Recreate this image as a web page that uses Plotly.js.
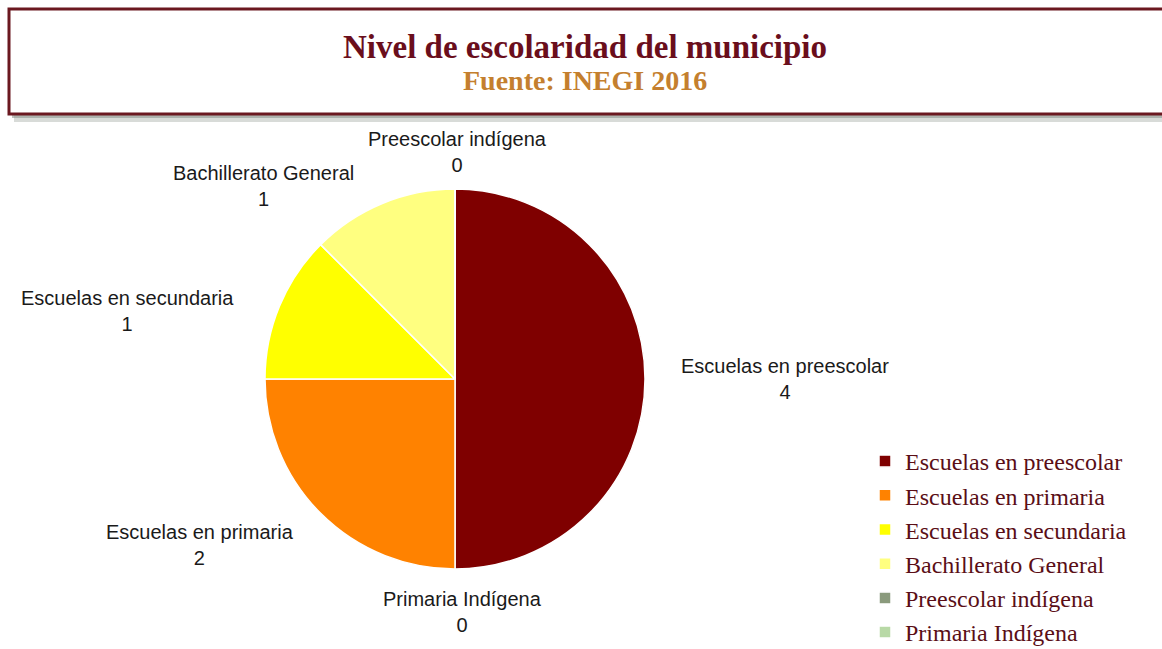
<!DOCTYPE html>
<html>
<head>
<meta charset="utf-8">
<script src="https://cdn.plot.ly/plotly-3.0.1.min.js"></script>
<style>html,body{margin:0;padding:0;background:#fff;}#chart{width:1162px;height:649px;}</style>
</head>
<body>
<div id="chart"></div>
<script>
// ---- data ----
var categories = ["Escuelas en preescolar", "Escuelas en primaria", "Escuelas en secundaria", "Bachillerato General", "Preescolar indígena", "Primaria Indígena"];
var values = [4, 2, 1, 1, 0, 0];
var sliceColors = ["#7F0000", "#FF8200", "#FFFF00", "#FFFF80", "#8A9A7C", "#B8D9A6"];
var titleText = "Nivel de escolaridad del municipio";
var subtitleText = "Fuente: INEGI 2016";

// ---- layout helpers (pixel -> paper) ----
var W = 1162, H = 649;
function px(x) { return x / W; }
function py(y) { return 1 - y / H; }

// label centre positions (pixels), in category order
var labelPos = [[785, 379], [200, 545], [127, 311], [263, 186], [457, 152], [462, 612]];

var trace = {
  type: "pie",
  labels: categories,
  values: values,
  sort: false,
  direction: "clockwise",
  rotation: 0,
  marker: { colors: sliceColors, line: { color: "#ffffff", width: 1.5 } },
  textinfo: "none",
  hoverinfo: "label+value",
  domain: { x: [px(265), px(645)], y: [py(569), py(189)] }
};

var annotations = [
  { text: "<b>" + titleText + "</b>", x: px(585), y: py(47), xref: "paper", yref: "paper", showarrow: false,
    xanchor: "center", yanchor: "middle",
    font: { family: "Liberation Serif, Times New Roman, serif", size: 33, color: "#6A0E1C" } },
  { text: "<b>" + subtitleText + "</b>", x: px(585), y: py(80), xref: "paper", yref: "paper", showarrow: false,
    xanchor: "center", yanchor: "middle",
    font: { family: "Liberation Serif, Times New Roman, serif", size: 28, color: "#C47F2E" } }
];
for (var i = 0; i < categories.length; i++) {
  annotations.push({
    text: categories[i] + "<br>" + values[i],
    x: px(labelPos[i][0]), y: py(labelPos[i][1]), xref: "paper", yref: "paper",
    xanchor: "center", yanchor: "middle",
    showarrow: false, align: "center",
    font: { family: "Liberation Sans, Arial, sans-serif", size: 20, color: "#1a1a1a" }
  });
}

var layout = {
  width: W, height: H,
  margin: { l: 0, r: 0, t: 0, b: 0, autoexpand: false },
  paper_bgcolor: "#ffffff",
  showlegend: true,
  legend: {
    x: px(865), y: py(439), xanchor: "left", yanchor: "top",
    font: { family: "Liberation Serif, Times New Roman, serif", size: 24, color: "#5A0E16" },
    bgcolor: "rgba(0,0,0,0)"
  },
  shapes: [
    { type: "rect", xref: "paper", yref: "paper", x0: px(14), x1: px(1170), y0: py(122), y1: py(14),
      fillcolor: "#a8b0a8", opacity: 0.45, line: { width: 0 }, layer: "below" },
    { type: "rect", xref: "paper", yref: "paper", x0: px(12), x1: px(1168), y0: py(118), y1: py(12),
      fillcolor: "#8a908a", opacity: 0.55, line: { width: 0 }, layer: "below" },
    { type: "rect", xref: "paper", yref: "paper", x0: px(9), x1: px(1166), y0: py(114), y1: py(9),
      fillcolor: "#ffffff", line: { color: "#6B1820", width: 3 }, layer: "below" }
  ],
  annotations: annotations
};

Plotly.newPlot("chart", [trace], layout, { displayModeBar: false, staticPlot: true });
</script>
</body>
</html>
